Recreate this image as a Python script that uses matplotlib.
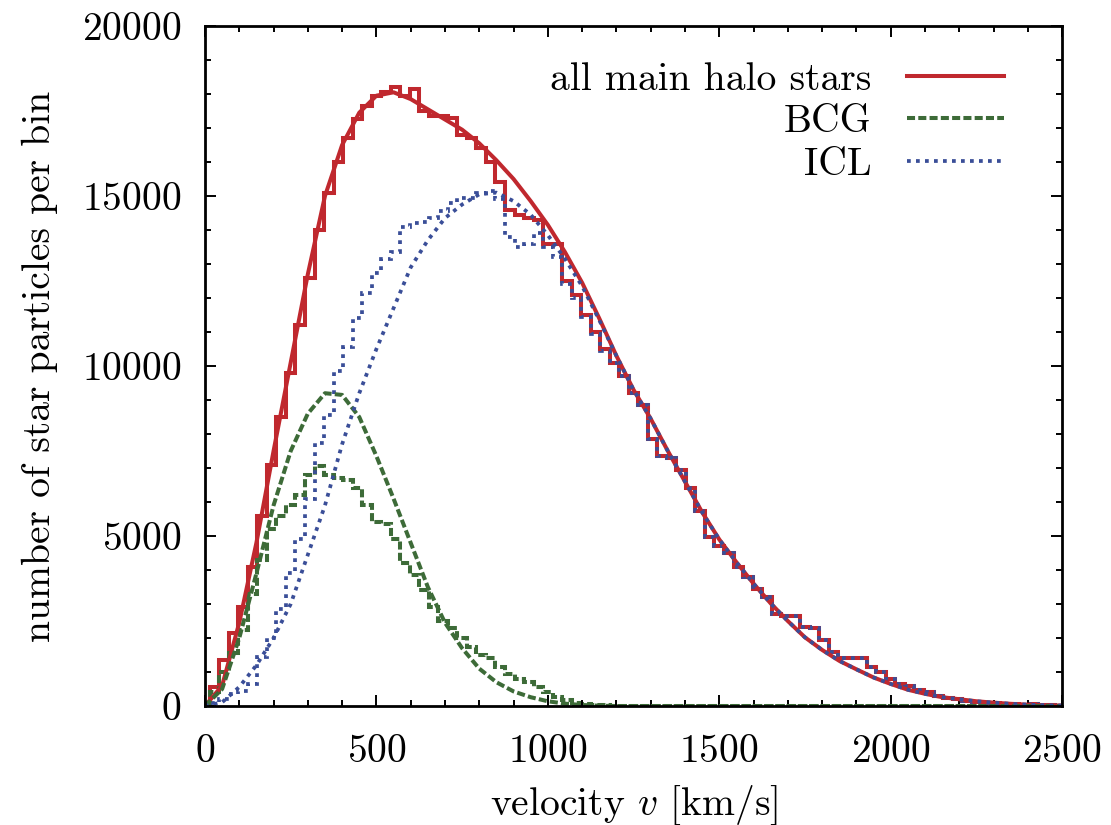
import numpy as np
import matplotlib
matplotlib.use("Agg")
import matplotlib.pyplot as plt
from matplotlib.lines import Line2D
from matplotlib.ticker import MultipleLocator

plt.rcParams['font.family'] = ['cmr10', 'DejaVu Serif']
plt.rcParams['mathtext.fontset'] = 'cm'
plt.rcParams['axes.formatter.use_mathtext'] = True

# ---------------- data ----------------
v_max, n_bins = 2500, 90
bin_width = v_max / n_bins
# histogram steps are centred on the bin positions (gnuplot "histeps")
bin_edges = np.concatenate([[0.0], (np.arange(n_bins) + 0.5) * bin_width])

all_hist = [100, 550, 1350, 2150, 2900, 4100, 5600, 7100, 8500, 9800,
            11200, 12600, 14000, 15100, 16000, 16700, 17250, 17650, 17950, 18050,
            18200, 17950, 18150, 17500, 17350, 17350, 17300, 16800, 16700, 16400,
            16000, 15400, 14600, 14450, 14350, 14300, 13600, 13600, 12500, 12100,
            11500, 11000, 10500, 10100, 9700, 9200, 8850, 7850, 7350, 7300,
            6950, 6400, 5750, 4970, 4700, 4500, 4100, 3800, 3450, 3200,
            2700, 2650, 2650, 2320, 2300, 1950, 1600, 1420, 1420, 1400,
            1150, 1000, 800, 650, 580, 460, 400, 300, 250, 200,
            160, 120, 100, 80, 60, 50, 40, 60, 30, 20]

bcg_hist = [80, 400, 1000, 1550, 2250, 3300, 4300, 5200, 5600, 5900,
            6200, 6800, 7050, 6800, 6700, 6650, 6400, 5900, 5400, 5350,
            4900, 4200, 3850, 3400, 2900, 2500, 2300, 2000, 1750, 1500,
            1400, 1150, 950, 800, 700, 550, 400, 280, 180, 100,
            60, 30, 20, 10, 5, 0, 0, 0, 0, 0,
            0, 0, 0, 0, 0, 0, 0, 0, 0, 0,
            0, 0, 0, 0, 0, 0, 0, 0, 0, 0,
            0, 0, 0, 0, 0, 0, 0, 0, 0, 0,
            0, 0, 0, 0, 0, 0, 0, 0, 0, 0]

icl_hist = [0, 80, 200, 350, 450, 650, 1450, 2000, 2850, 3900,
            4900, 6100, 7750, 8550, 9850, 10550, 11400, 12150, 12750, 13150,
            13350, 14100, 14200, 14250, 14350, 14550, 14800, 14950, 14950, 15100,
            15150, 14900, 13800, 13500, 13600, 13900, 13500, 13200, 12400, 12000,
            11450, 10950, 10450, 10100, 9700, 9200, 8850, 7850, 7350, 7300,
            6950, 6400, 5750, 4970, 4700, 4500, 4100, 3800, 3450, 3200,
            2700, 2650, 2650, 2320, 2300, 1950, 1600, 1420, 1420, 1400,
            1150, 1000, 800, 650, 580, 460, 400, 300, 250, 200,
            160, 120, 100, 80, 60, 50, 40, 60, 30, 20]

# fitted curves, every 50 km/s
fit_v = [0, 50, 100, 150, 200, 250, 300, 350, 400, 450,
         500, 550, 600, 650, 700, 750, 800, 850, 900, 950,
         1000, 1050, 1100, 1150, 1200, 1250, 1300, 1350, 1400, 1450,
         1500, 1550, 1600, 1650, 1700, 1750, 1800, 1850, 1900, 1950,
         2000, 2050, 2100, 2150, 2200, 2250, 2300, 2350, 2400, 2450, 2500]

all_fit = [0, 600, 2450, 4800, 7500, 10100, 12700, 15000, 16500, 17450,
           17950, 18050, 17850, 17550, 17250, 16950, 16550, 16050, 15500, 14850,
           14150, 13350, 12450, 11400, 10300, 9300, 8450, 7500, 6600, 5700,
           4900, 4230, 3600, 3020, 2500, 2020, 1650, 1330, 1080, 840,
           650, 480, 360, 260, 200, 140, 100, 65, 40, 25, 15]

bcg_fit = [0, 500, 2000, 3900, 5900, 7500, 8600, 9200, 9150, 8500,
           7350, 6100, 4800, 3500, 2450, 1700, 1100, 700, 430, 260,
           140, 70, 30, 10, 0, 0, 0, 0, 0, 0,
           0, 0, 0, 0, 0, 0, 0, 0, 0, 0,
           0, 0, 0, 0, 0, 0, 0, 0, 0, 0, 0]

icl_fit = [0, 110, 560, 1200, 2000, 3000, 4450, 5900, 7700, 9200,
           10500, 11700, 12900, 13700, 14350, 14750, 15050, 15100, 14850, 14450,
           13850, 13150, 12350, 11350, 10300, 9300, 8450, 7500, 6600, 5700,
           4900, 4230, 3600, 3020, 2500, 2020, 1650, 1330, 1080, 840,
           650, 480, 360, 260, 200, 140, 100, 65, 40, 25, 15]

labels = ["all main halo stars", "BCG", "ICL"]
colors = ["#c0282e", "#3d6b38", "#3a4e98"]

# ---------------- plot ----------------
fig = plt.figure(figsize=(11.11, 8.25), dpi=100)
ax = fig.add_axes([0.1845, 0.1442, 0.7715, 0.8243])

lw_red, lw_green, lw_blue = 2.9, 2.9, 2.7
dash_green = (2.0, 0.8)
dot_blue = (1.0, 1.4)

ax.stairs(all_hist, bin_edges, color=colors[0], lw=lw_red, baseline=None)
ax.plot(fit_v, all_fit, color=colors[0], lw=lw_red)

ax.stairs(bcg_hist, bin_edges, color=colors[1], lw=lw_green, baseline=None,
          linestyle=(0, dash_green))
ax.plot(fit_v, bcg_fit, color=colors[1], lw=lw_green, dashes=dash_green)

ax.stairs(icl_hist, bin_edges, color=colors[2], lw=lw_blue, baseline=None,
          linestyle=(0, dot_blue))
ax.plot(fit_v, icl_fit, color=colors[2], lw=lw_blue, dashes=dot_blue)

ax.set_xlim(0, 2500)
ax.set_ylim(0, 20000)
ax.xaxis.set_major_locator(MultipleLocator(500))
ax.xaxis.set_minor_locator(MultipleLocator(100))
ax.yaxis.set_major_locator(MultipleLocator(5000))
ax.yaxis.set_minor_locator(MultipleLocator(1000))
ax.tick_params(which='both', direction='in', top=True, right=True,
               labelsize=28.5, width=1.4)
ax.tick_params(which='major', length=8)
ax.tick_params(which='minor', length=4.5)
ax.tick_params(axis='x', which='major', pad=20)
ax.tick_params(axis='y', which='major', pad=17)
for s in ax.spines.values():
    s.set_linewidth(2.0)

ax.set_xlabel(r"velocity $v$ [km/s]", fontsize=28.5, labelpad=10)
ax.set_ylabel("number of star particles per bin", fontsize=28.5, labelpad=17)

handles = [Line2D([], [], color=colors[0], lw=lw_red),
           Line2D([], [], color=colors[1], lw=lw_green, dashes=dash_green),
           Line2D([], [], color=colors[2], lw=lw_blue, dashes=dot_blue)]
ax.legend(handles, labels, loc='upper right', bbox_to_anchor=(0.951, 0.9705),
          frameon=False, markerfirst=False, fontsize=28.5, handlelength=2.45,
          handletextpad=0.9, labelspacing=0.17, borderaxespad=0)

fig.savefig("out.png", dpi=100)
